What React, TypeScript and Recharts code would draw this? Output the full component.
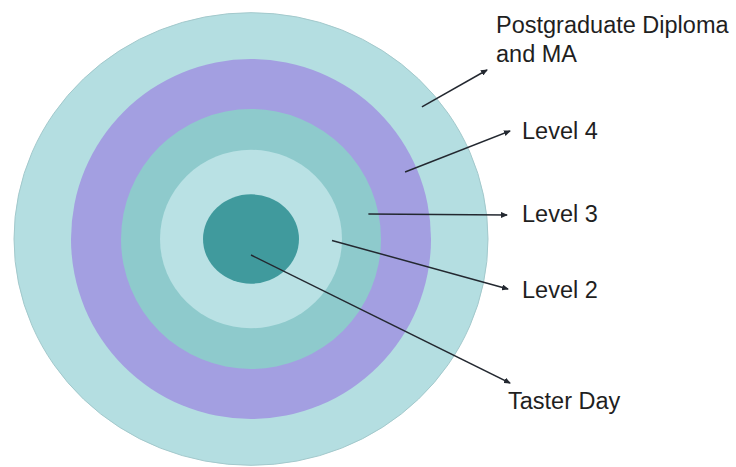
import { PieChart, Pie, Cell } from 'recharts';

// rings from the centre outwards
const levels = ['Taster Day', 'Level 2', 'Level 3', 'Level 4', 'Postgraduate Diploma and MA'];
const ringValue = [1, 1, 1, 1, 1];
const ringColors = ['#409a9d', '#b9e1e4', '#8ecacc', '#a39fe1', '#b4dee1'];
const ringRadius = [48, 91, 130, 180, 237];
const ringSquash = [0.93, 0.98, 1, 1, 0.955];

// label text (one entry per level, split into lines)
const labelLines = [['Taster Day'], ['Level 2'], ['Level 3'], ['Level 4'], ['Postgraduate Diploma', 'and MA']];

const W = 736;
const H = 467;
const CX = 251;
const CY = 239;

// where each arrow leaves the ring (angle in degrees, distance from centre)
const tailAngle = [-90, -1, 12, 23.5, 37.7];
const tailDist = [16, 81, 120, 168, 216];
// arrow tips and label anchors
const tipPos = [[510, 383], [508, 289], [507, 215], [510, 131], [487, 70]];
const textPos = [[508, 409], [522, 298], [522, 222], [522, 139], [496, 33]];

// draws each disc as an ellipse using the sector geometry recharts hands over
const makeShape = (i: number) => (props: any) => (
  <ellipse
    cx={props.cx}
    cy={props.cy}
    rx={props.outerRadius}
    ry={props.outerRadius * ringSquash[i]}
    fill={props.fill}
    stroke={i === 4 ? '#a3c9cc' : 'none'}
    strokeWidth={1}
  />
);

export default function App() {
  const order = [4, 3, 2, 1, 0];
  return (
    <div style={{ position: 'absolute', left: 0, top: 0, width: W, height: H, background: '#fff' }}>
      <PieChart width={W} height={H} margin={{ top: 0, right: 0, bottom: 0, left: 0 }}>
        {order.map((i) => (
          <Pie
            key={levels[i]}
            data={[{ name: levels[i], value: ringValue[i] }]}
            dataKey="value"
            nameKey="name"
            cx={CX}
            cy={CY}
            innerRadius={0}
            outerRadius={ringRadius[i]}
            startAngle={90}
            endAngle={-270}
            stroke="none"
            shape={makeShape(i)}
            isAnimationActive={false}
          >
            <Cell fill={ringColors[i]} />
          </Pie>
        ))}
      </PieChart>
      <svg
        width={W}
        height={H}
        style={{ position: 'absolute', left: 0, top: 0, pointerEvents: 'none' }}
      >
        <defs>
          <marker id="head" markerWidth="7" markerHeight="6" refX="6" refY="3" orient="auto" markerUnits="userSpaceOnUse">
            <path d="M0,0 L7,3 L0,6 z" fill="#232830" />
          </marker>
        </defs>
        {levels.map((name, i) => {
          const a = (tailAngle[i] * Math.PI) / 180;
          const x1 = CX + tailDist[i] * Math.cos(a);
          const y1 = CY - tailDist[i] * Math.sin(a);
          return (
            <line
              key={name}
              x1={x1}
              y1={y1}
              x2={tipPos[i][0]}
              y2={tipPos[i][1]}
              stroke="#232830"
              strokeWidth={1.5}
              markerEnd="url(#head)"
            />
          );
        })}
        {labelLines.map((lines, i) => (
          <text
            key={i}
            x={textPos[i][0]}
            y={textPos[i][1]}
            fontFamily="'Liberation Sans', Arial, sans-serif"
            fontSize={23.5}
            fill="#1f1f1f"
          >
            {lines.map((t, j) => (
              <tspan key={t} x={textPos[i][0]} dy={j === 0 ? 0 : 29}>
                {t}
              </tspan>
            ))}
          </text>
        ))}
      </svg>
    </div>
  );
}
